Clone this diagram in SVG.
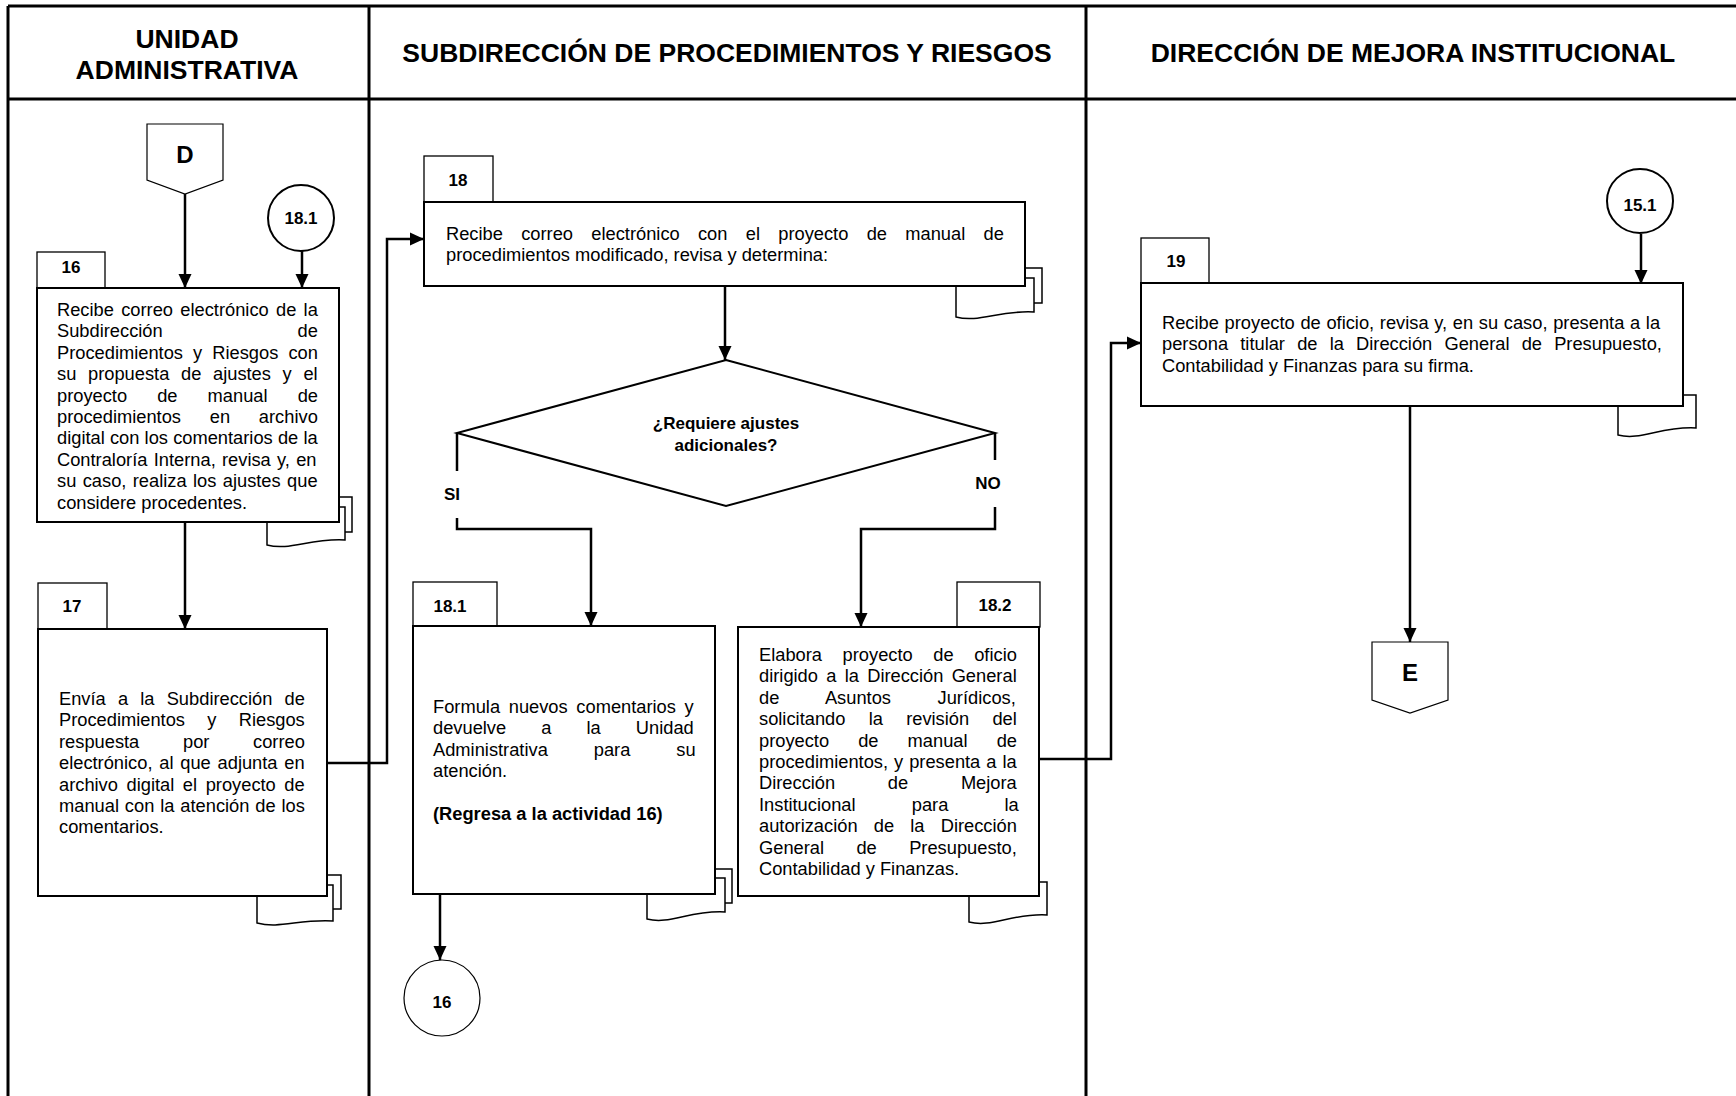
<svg xmlns="http://www.w3.org/2000/svg" width="1736" height="1096" viewBox="0 0 1736 1096">
<style>
.t{font-family:"Liberation Sans",Arial,sans-serif;font-size:18.3px;fill:#000}
.bt{font-family:"Liberation Sans",Arial,sans-serif;font-size:18.3px;font-weight:bold;fill:#000}
.hdr{font-family:"Liberation Sans",Arial,sans-serif;font-size:26.5px;font-weight:bold;text-anchor:middle;fill:#000}
.lbl{font-family:"Liberation Sans",Arial,sans-serif;font-size:17px;font-weight:bold;text-anchor:middle;fill:#000}
.big{font-family:"Liberation Sans",Arial,sans-serif;font-size:24px;font-weight:bold;text-anchor:middle;fill:#000}
.grid{fill:none;stroke:#000;stroke-width:3}
.box{fill:#fff;stroke:#000;stroke-width:2}
.tab{fill:#fff;stroke:#000;stroke-width:1.3}
.doc{fill:#fff;stroke:#000;stroke-width:1.5}
.conn{fill:none;stroke:#000;stroke-width:2.5}
.arr{marker-end:url(#ah)}
.thin{fill:#fff;stroke:#000;stroke-width:1.2}
</style>
<defs>
<marker id="ah" markerWidth="14" markerHeight="14" refX="14" refY="7" orient="auto" markerUnits="userSpaceOnUse">
<path d="M0,0.5 L14,7 L0,13.5 Z" fill="#000"/>
</marker>
</defs>
<rect x="0" y="0" width="1736" height="1096" fill="#fff"/>

<g id="lanes">
<path class="grid" d="M8,6 H1736 M8,99 H1736 M8,6 V1096 M369,6 V1096 M1086,6 V1096"/>
<text class="hdr" x="187" y="48">UNIDAD</text>
<text class="hdr" x="187" y="79">ADMINISTRATIVA</text>
<text class="hdr" x="727" y="62">SUBDIRECCIÓN DE PROCEDIMIENTOS Y RIESGOS</text>
<text class="hdr" x="1413" y="62">DIRECCIÓN DE MEJORA INSTITUCIONAL</text>
</g>

<g id="connectors">
<path class="conn arr" d="M185,194 V288"/>
<path class="conn arr" d="M302,251 V288"/>
<path class="conn arr" d="M185,522 V629"/>
<path class="conn arr" d="M327,763 H387 V239 H424"/>
<path class="conn arr" d="M725,286 V360"/>
<path class="conn" d="M457,433 V471"/>
<path class="conn arr" d="M457,518 V529 H591 V626"/>
<path class="conn" d="M995,433 V460"/>
<path class="conn arr" d="M995,507 V529 H861 V627"/>
<path class="conn arr" d="M440,894 V960"/>
<path class="conn arr" d="M1039,759 H1111 V343 H1141"/>
<path class="conn arr" d="M1641,234 V284"/>
<path class="conn arr" d="M1410,406 V642"/>
<text class="lbl" x="452" y="500">SI</text>
<text class="lbl" x="988" y="489">NO</text>
</g>

<g id="connD">
<path class="thin" d="M147,124 H223 V180 L185,194 L147,180 Z"/>
<text class="big" x="185" y="163">D</text>
</g>

<g id="conn181">
<circle cx="301" cy="218" r="33" fill="#fff" stroke="#000" stroke-width="2"/>
<text class="lbl" x="301" y="224">18.1</text>
</g>

<g id="act16">
<rect class="doc" x="279" y="497" width="73" height="35"/>
<path class="doc" d="M267,507 H345 V540 C310,538 290,551 267,545 Z"/>
<rect class="tab" x="37" y="252" width="68" height="36"/>
<text class="lbl" x="71" y="273">16</text>
<rect class="box" x="37" y="288" width="302" height="234"/>
<text class="t" x="57" y="316" word-spacing="2.2">Recibe correo electrónico de la</text>
<text class="t" x="57" y="337.4" word-spacing="129.8">Subdirección de</text>
<text class="t" x="57" y="358.8" word-spacing="5">Procedimientos y Riesgos con</text>
<text class="t" x="57" y="380.2" word-spacing="6.6">su propuesta de ajustes y el</text>
<text class="t" x="57" y="401.6" word-spacing="25">proyecto de manual de</text>
<text class="t" x="57" y="423" word-spacing="23.7">procedimientos en archivo</text>
<text class="t" x="57" y="444.4" word-spacing="0.1">digital con los comentarios de la</text>
<text class="t" x="57" y="465.8" word-spacing="1.2">Contraloría Interna, revisa y, en</text>
<text class="t" x="57" y="487.2" word-spacing="1.3">su caso, realiza los ajustes que</text>
<text class="t" x="57" y="508.6">considere procedentes.</text>
</g>

<g id="act17">
<rect class="doc" x="270" y="875" width="71" height="34"/>
<path class="doc" d="M257,885 H333 V921 C299,919 280,929 257,923 Z"/>
<rect class="tab" x="38" y="583" width="69" height="46"/>
<text class="lbl" x="72" y="612">17</text>
<rect class="box" x="38" y="629" width="289" height="267"/>
<text class="t" x="59" y="705" word-spacing="7.1">Envía a la Subdirección de</text>
<text class="t" x="59" y="726.4" word-spacing="17.2">Procedimientos y Riesgos</text>
<text class="t" x="59" y="747.8" word-spacing="38.6">respuesta por correo</text>
<text class="t" x="59" y="769.2" word-spacing="1.7">electrónico, al que adjunta en</text>
<text class="t" x="59" y="790.6" word-spacing="3.5">archivo digital el proyecto de</text>
<text class="t" x="59" y="812" word-spacing="0.8">manual con la atención de los</text>
<text class="t" x="59" y="833.4">comentarios.</text>
</g>

<g id="act18">
<rect class="doc" x="960" y="268" width="82" height="35"/>
<path class="doc" d="M956,278 H1034 V312 C999,310 979,323 956,317 Z"/>
<rect class="tab" x="424" y="156" width="69" height="46"/>
<text class="lbl" x="458" y="186">18</text>
<rect class="box" x="424" y="202" width="601" height="84"/>
<text class="t" x="446" y="240" word-spacing="13.2">Recibe correo electrónico con el proyecto de manual de</text>
<text class="t" x="446" y="261.4">procedimientos modificado, revisa y determina:</text>
</g>

<g id="decision">
<polygon points="726,360 995,433 726,506 457,433" fill="#fff" stroke="#000" stroke-width="2"/>
<text class="lbl" x="726" y="429" font-size="17.5">¿Requiere ajustes</text>
<text class="lbl" x="726" y="451" font-size="17.5">adicionales?</text>
</g>

<g id="act181">
<rect class="doc" x="655" y="869" width="77" height="34"/>
<path class="doc" d="M647,878 H725 V912 C690,910 670,925 647,919 Z"/>
<rect class="tab" x="413" y="582" width="84" height="44"/>
<text class="lbl" x="450" y="612">18.1</text>
<rect class="box" x="413" y="626" width="302" height="268"/>
<text class="t" x="433" y="713" word-spacing="3.6">Formula nuevos comentarios y</text>
<text class="t" x="433" y="734.4" word-spacing="30">devuelve a la Unidad</text>
<text class="t" x="433" y="755.8" word-spacing="40.9">Administrativa para su</text>
<text class="t" x="433" y="777.2">atención.</text>
<text class="bt" x="433" y="820">(Regresa a la actividad 16)</text>
</g>

<g id="act182">
<path class="doc" d="M969,882 H1047 V915 C1012,913 992,928 969,922 Z"/>
<rect class="tab" x="957" y="582" width="83" height="45"/>
<text class="lbl" x="995" y="611">18.2</text>
<rect class="box" x="738" y="627" width="301" height="269"/>
<text class="t" x="759" y="661" word-spacing="15.5">Elabora proyecto de oficio</text>
<text class="t" x="759" y="682.4" word-spacing="3.2">dirigido a la Dirección General</text>
<text class="t" x="759" y="703.8" word-spacing="41.5">de Asuntos Jurídicos,</text>
<text class="t" x="759" y="725.2" word-spacing="18.2">solicitando la revisión del</text>
<text class="t" x="759" y="746.6" word-spacing="24">proyecto de manual de</text>
<text class="t" x="759" y="768" word-spacing="0.9">procedimientos, y presenta a la</text>
<text class="t" x="759" y="789.4" word-spacing="47.6">Dirección de Mejora</text>
<text class="t" x="759" y="810.8" word-spacing="51.1">Institucional para la</text>
<text class="t" x="759" y="832.2" word-spacing="11.1">autorización de la Dirección</text>
<text class="t" x="759" y="853.6" word-spacing="27.3">General de Presupuesto,</text>
<text class="t" x="759" y="875">Contabilidad y Finanzas.</text>
</g>

<g id="conn16">
<circle cx="442" cy="998" r="38" fill="#fff" stroke="#000" stroke-width="1.2"/>
<text class="lbl" x="442" y="1008">16</text>
</g>

<g id="conn151">
<ellipse cx="1640" cy="201" rx="33" ry="32" fill="#fff" stroke="#000" stroke-width="2"/>
<text class="lbl" x="1640" y="211">15.1</text>
</g>

<g id="act19">
<path class="doc" d="M1618,395 H1696 V428 C1661,426 1641,441 1618,435 Z"/>
<rect class="tab" x="1141" y="238" width="68" height="45"/>
<text class="lbl" x="1176" y="267">19</text>
<rect class="box" x="1141" y="283" width="542" height="123"/>
<text class="t" x="1162" y="329" word-spacing="0.6">Recibe proyecto de oficio, revisa y, en su caso, presenta a la</text>
<text class="t" x="1162" y="350.4" word-spacing="7.1">persona titular de la Dirección General de Presupuesto,</text>
<text class="t" x="1162" y="371.8">Contabilidad y Finanzas para su firma.</text>
</g>

<g id="connE">
<path class="thin" d="M1372,642 H1448 V700 L1410,713 L1372,700 Z"/>
<text class="big" x="1410" y="681">E</text>
</g>
</svg>
